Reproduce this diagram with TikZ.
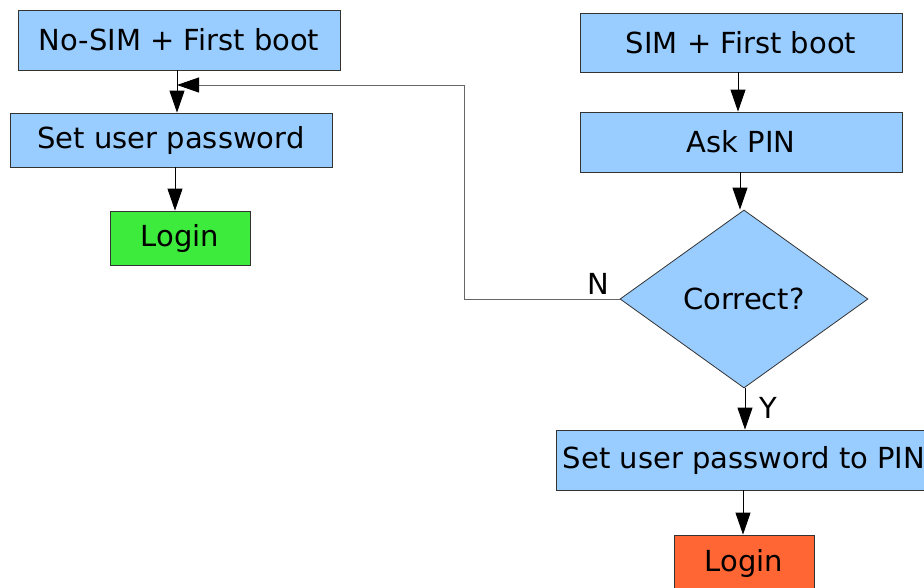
\documentclass[tikz,border=0pt]{standalone}
\usepackage{fontspec}
\setmainfont{DejaVu Sans}
\usetikzlibrary{arrows.meta,shapes.geometric}
\definecolor{boxblue}{HTML}{99CCFF}
\definecolor{logingreen}{HTML}{3DEB3D}
\definecolor{loginorange}{HTML}{FF6633}
\definecolor{edgegray}{HTML}{333333}
\definecolor{fbgray}{HTML}{666666}
\begin{document}
\begin{tikzpicture}[x=1pt,y=-1pt,
  font=\fontsize{29}{34}\selectfont,
  box/.style={rectangle,draw=edgegray,line width=0.8pt,fill=boxblue,inner sep=0pt},
  dia/.style={diamond,draw=edgegray,line width=0.8pt,fill=boxblue,inner sep=0pt},
  arr/.style={draw=black,line width=0.9pt,-{Triangle[length=22pt,width=15pt,color=black]}},
  fb/.style={draw=fbgray,line width=0.9pt,-{Triangle[length=22pt,width=15pt,color=black]}},
  lbl/.style={inner sep=0pt}]
\useasboundingbox (0,0) rectangle (924,587);
% left column
\node[box,minimum width=322pt,minimum height=60pt] (nosim) at (179,40) {No-SIM + First boot};
\node[box,minimum width=322pt,minimum height=54pt] (setpw) at (171,140) {Set user password};
\node[box,fill=logingreen,minimum width=140pt,minimum height=54pt] (login1) at (180,238) {Login};
% right column
\node[box,minimum width=322pt,minimum height=59pt] (sim) at (741,42.5) {SIM + First boot};
\node[box,minimum width=322pt,minimum height=60pt] (ask) at (741,142) {Ask PIN};
\node[dia,minimum width=248pt,minimum height=178pt] (correct) at (744,299) {Correct?};
\node[box,minimum width=376pt,minimum height=60pt] (setpin) at (744,460) {Set user password to PIN};
\node[box,fill=loginorange,minimum width=140pt,minimum height=56pt] (login2) at (744,563) {Login};
% helper x positions
\coordinate (xa) at (177,0);
\coordinate (xb) at (175,0);
\coordinate (xc) at (738,0);
\coordinate (xd) at (740,0);
\coordinate (xe) at (745,0);
\coordinate (xf) at (743,0);
\coordinate (join) at (177,85);
\coordinate (corner) at (464,85);
% connectors
\draw[arr] (nosim.south -| xa) -- (setpw.north -| xa);
\draw[arr] (setpw.south -| xb) -- (login1.north -| xb);
\draw[arr] (sim.south -| xc) -- (ask.north -| xc);
\draw[arr] (ask.south -| xd) -- (correct.north -| xd);
\draw[arr] (correct.south -| xe) -- (setpin.north -| xe);
\draw[arr] (setpin.south -| xf) -- (login2.north -| xf);
\draw[fb] (correct.west) -| (corner) -- (join);
% labels
\node[lbl] (n) at (598,284) {N};
\node[lbl] (y) at (768,408) {Y};
\end{tikzpicture}
\end{document}
